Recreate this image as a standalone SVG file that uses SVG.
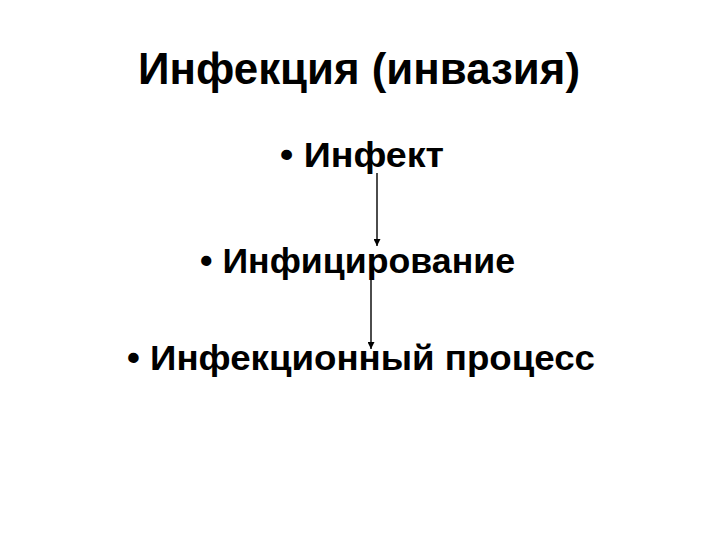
<svg xmlns="http://www.w3.org/2000/svg" width="720" height="540" viewBox="0 0 720 540">
<defs>
<style>
text{font-family:"Liberation Sans",Arial,sans-serif;font-weight:bold;fill:#000}
.t{font-size:44px}
.b{font-size:35px}
.c{stroke:#000;stroke-width:1.4;fill:none}
</style>
<marker id="ah" viewBox="0 0 10 10" refX="10" refY="5" markerWidth="7" markerHeight="7" orient="auto" markerUnits="userSpaceOnUse">
<path d="M0,0 L10,5 L0,10 z" fill="#000"/>
</marker>
</defs>
<rect width="720" height="540" fill="#fff"/>
<g id="title"><text class="t" x="138" y="84" textLength="442" lengthAdjust="spacingAndGlyphs">Инфекция (инвазия)</text></g>
<g id="n1"><text class="b" x="280" y="167" textLength="164" lengthAdjust="spacingAndGlyphs">• Инфект</text></g>
<g id="n2"><text class="b" x="200" y="273" textLength="315" lengthAdjust="spacingAndGlyphs">• Инфицирование</text></g>
<g id="n3"><text class="b" x="127" y="370" textLength="468" lengthAdjust="spacingAndGlyphs">• Инфекционный процесс</text></g>
<g id="connectors">
<line class="c" x1="377" y1="173" x2="377" y2="246" marker-end="url(#ah)"/>
<line class="c" x1="371" y1="280" x2="371" y2="349" marker-end="url(#ah)"/>
</g>
</svg>
